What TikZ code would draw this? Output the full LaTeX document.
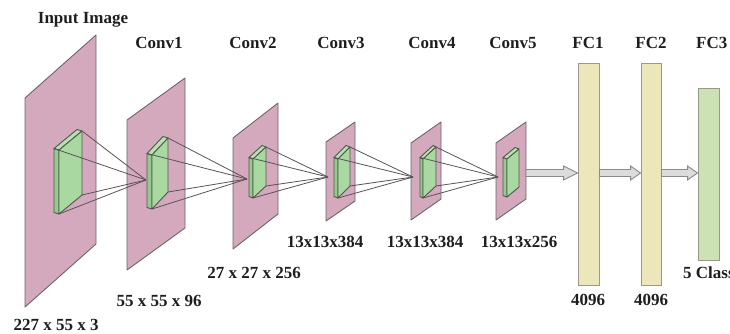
\documentclass[tikz,border=0pt]{standalone}
\usepackage{fontspec}
\setmainfont{Liberation Serif}
\usetikzlibrary{calc}

% colours of the network drawing
\definecolor{mapfill}{HTML}{D4A9BE}
\definecolor{mapedge}{HTML}{6E6468}
\definecolor{kerfill}{HTML}{A9D8A0}
\definecolor{kerside}{HTML}{97C88E}
\definecolor{keredge}{HTML}{4E5A4C}
\definecolor{fcfill}{HTML}{ECE7BA}
\definecolor{fcedge}{HTML}{9A988A}
\definecolor{outfill}{HTML}{CDE2B4}
\definecolor{arrfill}{HTML}{DCDCDC}
\definecolor{arredge}{HTML}{8A8A8A}
\definecolor{linkcol}{HTML}{5A5258}
\definecolor{txt}{HTML}{1E1E1E}

% feature map: name, left x, right x, top-left y, top-right y, height
\newcommand\featuremap[6]{%
  \coordinate (#1-nw) at (#2,#4);
  \coordinate (#1-ne) at (#3,#5);
  \coordinate (#1-se) at (#3,#5+#6);
  \coordinate (#1-sw) at (#2,#4+#6);
  \draw[mapstyle] (#1-nw) -- (#1-ne) -- (#1-se) -- (#1-sw) -- cycle;}

% kernel slab: name, strip x, face left x, face right x, face top-left y, face top-right y, height
\newcommand\kernelslab[7]{%
  \coordinate (#1-tl) at (#2,#5-1.5);
  \coordinate (#1-tr) at (#4,#6);
  \coordinate (#1-br) at (#4,#6+#7);
  \coordinate (#1-bl) at (#3,#5+#7);
  \draw[kerstyle,fill=kerside] (#2,#5-1.5) -- (#3,#5) -- (#3,#5+#7) -- (#2,#5+#7-1.5) -- cycle;
  \draw[kerstyle,fill=kerfill!80!white] (#2,#5-1.5) -- (#2+#4-#3,#6-1.5) -- (#4,#6) -- (#3,#5) -- cycle;
  \draw[kerstyle] (#3,#5) -- (#4,#6) -- (#4,#6+#7) -- (#3,#5+#7) -- cycle;}

% hollow block arrow: start, tip, head length
\newcommand\blockarrow[3]{%
  \draw[arrstyle] ($(#1)+(0,-3.5)$) -- ($(#2)+(-#3,-3.5)$) -- ($(#2)+(-#3,-7)$) -- (#2)
    -- ($(#2)+(-#3,7)$) -- ($(#2)+(-#3,3.5)$) -- ($(#1)+(0,3.5)$) -- cycle;}

\begin{document}
\begin{tikzpicture}[x=1bp,y=-1bp,
  mapstyle/.style={fill=mapfill,draw=mapedge,line width=0.9bp,line join=round},
  kerstyle/.style={fill=kerfill,draw=keredge,line width=0.9bp,line join=round},
  link/.style={draw=linkcol,line width=0.8bp},
  arrstyle/.style={fill=arrfill,draw=arredge,line width=0.9bp,line join=miter},
  fcbox/.style={draw=fcedge,fill=fcfill,line width=0.9bp,inner sep=0pt},
  lab/.style={text=txt,inner sep=0pt,font=\fontsize{17bp}{20bp}\selectfont\bfseries}]
\useasboundingbox (0,0) rectangle (730,333);

% feature maps
\featuremap{m0}{25}{96}{98}{35}{209}
\featuremap{m1}{127}{185}{120}{78}{150}
\featuremap{m2}{233}{278}{138}{103}{111}
\featuremap{m3}{326}{355}{142}{122}{79}
\featuremap{m4}{411}{441}{143}{122}{77}
\featuremap{m5}{496}{526}{143}{122}{77}

% kernels on each map
\kernelslab{k0}{54}{59}{82}{150}{131}{64}
\kernelslab{k1}{147}{152}{168}{155}{138}{54}
\kernelslab{k2}{249}{253}{266}{159}{147}{39}
\kernelslab{k3}{334}{338}{350}{159}{147}{39}
\kernelslab{k4}{420}{423}{436}{159}{147}{39}
\kernelslab{k5}{503}{507}{519}{159}{149}{38}

% receptive field apexes
\coordinate (p1) at (146,180);
\coordinate (p2) at (247,179);
\coordinate (p3) at (328,177);
\coordinate (p4) at (413,177);
\coordinate (p5) at (498,177);

\foreach \k/\p in {k0/p1,k1/p2,k2/p3,k3/p4,k4/p5}
  \foreach \c in {tl,tr,br,bl}
    \draw[link] (\k-\c) -- (\p);

% fully connected layers
\node[fcbox,minimum width=21bp,minimum height=222bp] (fc1) at (588.5,174) {};
\node[fcbox,minimum width=20bp,minimum height=222bp] (fc2) at (651,174) {};
\node[fcbox,fill=outfill,minimum width=21bp,minimum height=172bp] (fc3) at (708.5,174) {};

\coordinate (a0) at (526,173);
\coordinate (a1) at (fc1.east |- a0);
\coordinate (a2) at (fc2.east |- a0);
\blockarrow{a0}{fc1.west |- a0}{14}
\blockarrow{a1}{fc2.west |- a0}{10}
\blockarrow{a2}{fc3.west |- a0}{10}

% titles
\node[lab] (tin) at (83,20) {Input Image};
\node[lab] (tc1) at (159,43) {Conv1};
\node[lab] (tc2) at (253,43) {Conv2};
\node[lab] (tc3) at (341,43) {Conv3};
\node[lab] (tc4) at (432,43) {Conv4};
\node[lab] (tc5) at (513,43) {Conv5};
\node[lab] (tf1) at (588,43) {FC1};
\node[lab] (tf2) at (651,43) {FC2};
\node[lab,anchor=west] (tf3) at (696,43) {FC3};

% sizes
\node[lab] (s0) at (56,325) {227 x 55 x 3};
\node[lab] (s1) at (159,301) {55 x 55 x 96};
\node[lab] (s2) at (254,273) {27 x 27 x 256};
\node[lab] (s3) at (325,242) {13x13x384};
\node[lab] (s4) at (425,242) {13x13x384};
\node[lab] (s5) at (519,242) {13x13x256};
\node[lab] (s6) at (588,300) {4096};
\node[lab] (s7) at (651,300) {4096};
\node[lab,anchor=west] (s8) at (683,273) {5 Class};
\end{tikzpicture}
\end{document}
